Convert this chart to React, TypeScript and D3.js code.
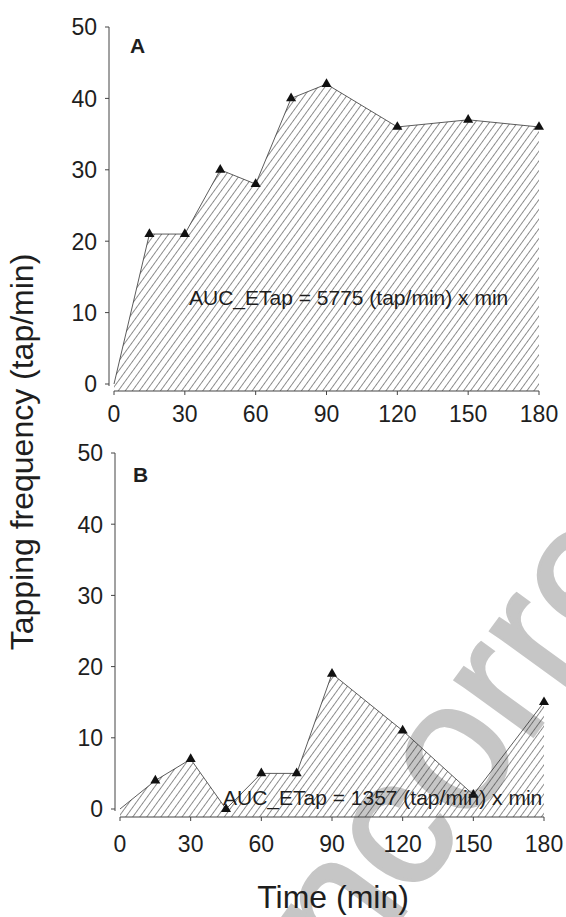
import React from "react";
import * as d3 from "d3";

// sampling times (min) and tapping frequency (tap/min) per panel
const times = [0, 15, 30, 45, 60, 75, 90, 120, 150, 180];
const tapA = [0, 21, 21, 30, 28, 40, 42, 36, 37, 36];
const tapB = [0, 4, 7, 0, 5, 5, 19, 11, 2, 15];
const xTicks = [0, 30, 60, 90, 120, 150, 180];
const yTicks = [0, 10, 20, 30, 40, 50];
const panelNames = ["A", "B"];
const aucTexts = [
  "AUC_ETap = 5775 (tap/min) x min",
  "AUC_ETap = 1357 (tap/min) x min",
];

const FONT = "'Liberation Sans', Arial, Helvetica, sans-serif";
const INK = "#1e1e1e";

// frame of each panel in page pixels
const frames = [
  { axisX: 109, left: 114, right: 539, top: 27, zero: 384, axisY: 391, tickLab: 31, name: [130, 53], auc: [189, 305] },
  { axisX: 115, left: 120, right: 544, top: 453, zero: 809, axisY: 817, tickLab: 35, name: [133, 482], auc: [223, 805] },
];

type Frame = (typeof frames)[number];

function Panel({ f, values, name, auc }: { f: Frame; values: number[]; name: string; auc: string }) {
  const x = d3.scaleLinear().domain([0, 180]).range([f.left, f.right]);
  const y = d3.scaleLinear().domain([0, 50]).range([f.zero, f.top]);
  const pts = times.map((t, i) => ({ t, v: values[i] }));

  const area = d3
    .area<{ t: number; v: number }>()
    .x((d) => x(d.t))
    .y0(f.axisY)
    .y1((d) => y(d.v));
  const line = d3
    .line<{ t: number; v: number }>()
    .x((d) => x(d.t))
    .y((d) => y(d.v));
  const tri = d3.symbol().type(d3.symbolTriangle).size(44)();

  return (
    <g>
      {/* hatched area under the curve */}
      <path d={area(pts) || ""} fill="url(#hatch)" stroke="none" />
      <path d={line(pts) || ""} fill="none" stroke="#333" strokeWidth={0.8} />
      {pts
        .filter((d) => d.t > 0)
        .map((d, i) => (
          <path key={i} d={tri || ""} transform={`translate(${x(d.t)},${y(d.v)})`} fill="#111" />
        ))}

      {/* y axis */}
      <line x1={f.axisX} x2={f.axisX} y1={f.top} y2={f.zero + 2} stroke="#444" strokeWidth={1} />
      {yTicks.map((t) => (
        <g key={t}>
          <line x1={f.axisX - 4} x2={f.axisX} y1={y(t)} y2={y(t)} stroke="#444" />
          <text x={f.axisX - 12} y={y(t) + 8.3} textAnchor="end" fontSize={23} fill={INK}>
            {t}
          </text>
        </g>
      ))}

      {/* x axis */}
      <line x1={f.left} x2={f.right} y1={f.axisY} y2={f.axisY} stroke="#444" strokeWidth={1} />
      {xTicks.map((t) => (
        <g key={t}>
          <line x1={x(t)} x2={x(t)} y1={f.axisY} y2={f.axisY + 4} stroke="#444" />
          <text x={x(t)} y={f.axisY + f.tickLab} textAnchor="middle" fontSize={23} fill={INK}>
            {t}
          </text>
        </g>
      ))}

      <text x={f.name[0]} y={f.name[1]} fontSize={21} fontWeight="bold" fill={INK}>
        {name}
      </text>
      <text x={f.auc[0]} y={f.auc[1]} fontSize={21} fill={INK}>
        {auc}
      </text>
    </g>
  );
}

export default function App() {
  const series = [tapA, tapB];
  return (
    <svg
      width={566}
      height={917}
      style={{ position: "absolute", left: 0, top: 0, background: "#fff" }}
      fontFamily={FONT}
    >
      <defs>
        <pattern id="hatch" width={5.7} height={10} patternUnits="userSpaceOnUse" patternTransform="rotate(36)">
          <line x1={0} y1={-1} x2={0} y2={11} stroke="#1e1e1e" strokeWidth={1} />
        </pattern>
      </defs>
      <rect width={566} height={917} fill="#fff" />

      {/* proof watermark */}
      <text
        transform="translate(276,1090) rotate(-54)"
        fontSize={182}
        fill="#c6c6c6"
        stroke="#c6c6c6"
        strokeWidth={3}
      >
        Uncorrected Proof
      </text>

      {frames.map((f, i) => (
        <Panel key={i} f={f} values={series[i]} name={panelNames[i]} auc={aucTexts[i]} />
      ))}

      <text transform="translate(33,452) rotate(-90)" textAnchor="middle" fontSize={32} fill={INK}>
        Tapping frequency (tap/min)
      </text>
      <text x={333} y={908} textAnchor="middle" fontSize={32} fill={INK}>
        Time (min)
      </text>
    </svg>
  );
}
